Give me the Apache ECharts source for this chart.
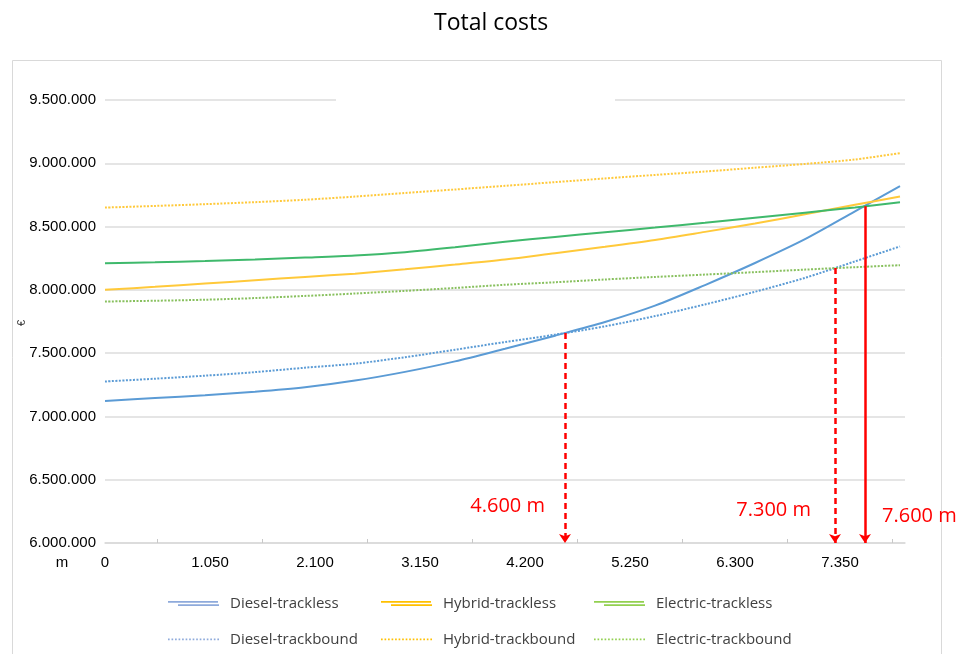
<!DOCTYPE html>
<html>
<head>
<meta charset="utf-8">
<script src="https://cdn.jsdelivr.net/npm/echarts@6/dist/echarts.min.js"></script>
<style>
  html, body { margin: 0; padding: 0; background: #ffffff; }
  #chart { width: 957px; height: 654px; }
</style>
</head>
<body>
<div id="chart"></div>
<script>
// Tunnel length (m) at which each cost value is sampled
const distances = [0, 500, 1000, 1500, 2000, 2500, 3000, 3500, 4000, 4500, 5000, 5500, 6000, 6500, 7000, 7500, 7950];

// Total costs (€) per variant
const dieselTrackless   = [7122000, 7145000, 7168000, 7195000, 7230000, 7283000, 7352000, 7435000, 7535000, 7638000, 7746000, 7875000, 8038000, 8212000, 8400000, 8620000, 8820000];
const hybridTrackless   = [8000000, 8024000, 8050000, 8076000, 8102000, 8128000, 8162000, 8200000, 8240000, 8290000, 8340000, 8394000, 8458000, 8524000, 8598000, 8672000, 8737000];
const electricTrackless = [8210000, 8218000, 8228000, 8240000, 8255000, 8272000, 8298000, 8336000, 8380000, 8418000, 8455000, 8492000, 8530000, 8570000, 8610000, 8651000, 8693000];
const dieselTrackbound  = [7276000, 7298000, 7322000, 7350000, 7385000, 7417000, 7468000, 7527000, 7588000, 7646000, 7712000, 7793000, 7885000, 7985000, 8095000, 8225000, 8343000];
const hybridTrackbound  = [8650000, 8663000, 8677000, 8693000, 8712000, 8737000, 8765000, 8793000, 8822000, 8851000, 8880000, 8908000, 8935000, 8965000, 8995000, 9030000, 9080000];
const electricTrackbound= [7908000, 7914000, 7922000, 7935000, 7952000, 7971000, 7992000, 8015000, 8040000, 8060000, 8082000, 8102000, 8121000, 8140000, 8160000, 8179000, 8195000];

// Break-even lengths and the cost level where the curves cross
const breakEvenLengths = [4600, 7300, 7600];
const breakEvenCosts   = [7659000, 8172000, 8660000];
const breakEvenLabels  = ['4.600 m', '7.300 m', '7.600 m'];

const seriesNames = ['Diesel-trackless', 'Hybrid-trackless', 'Electric-trackless',
                     'Diesel-trackbound', 'Hybrid-trackbound', 'Electric-trackbound'];

function dotted(n) {
  return String(Math.round(n)).replace(/\B(?=(\d{3})+(?!\d))/g, '.');
}
function pairs(values) {
  return distances.map((d, i) => [d, values[i]]);
}

const chart = echarts.init(document.getElementById('chart'), null, { renderer: 'canvas' });

const dotPattern = [2, 1.5];
const doubleLineIcon = 'path://M0,0H50V1.6H0Z M10,3.2H51V4.8H10Z';
// Row of small square dots for the trackbound legend keys
let dotPath = '';
for (let x = 0; x <= 49; x += 3.4) {
  dotPath += 'M' + x.toFixed(1) + ',1.4H' + (x + 1.6).toFixed(1) + 'V3.2H' + x.toFixed(1) + 'Z ';
}
const dottedLineIcon = 'path://M0,0H0.01V4.8H0Z ' + dotPath;

function lineSeries(name, values, color, isDotted) {
  return {
    name: name,
    type: 'line',
    data: pairs(values),
    showSymbol: false,
    symbol: 'none',
    smooth: 0.3,
    lineStyle: { color: color, width: 2, type: isDotted ? dotPattern : 'solid' },
    itemStyle: { color: color },
    emphasis: { disabled: true },
    z: 3
  };
}

const series = [
  lineSeries('Diesel-trackless', dieselTrackless, '#5b9bd5', false),
  lineSeries('Hybrid-trackless', hybridTrackless, '#ffc93a', false),
  lineSeries('Electric-trackless', electricTrackless, '#3fb96c', false),
  lineSeries('Diesel-trackbound', dieselTrackbound, '#5b9bd5', true),
  lineSeries('Hybrid-trackbound', hybridTrackbound, '#ffc93a', true),
  lineSeries('Electric-trackbound', electricTrackbound, '#88c05e', true)
];

// Red break-even arrows, from the crossing point down to the axis
series[0].markLine = {
  silent: true,
  symbol: ['none', 'arrow'],
  symbolSize: [9, 9],
  label: { show: false },
  animation: false,
  data: breakEvenLengths.map((len, i) => [
    { coord: [len, breakEvenCosts[i]],
      lineStyle: { color: '#ff0000', width: 2.5, type: i < 2 ? [6, 4] : 'solid' },
      itemStyle: { color: '#ff0000' } },
    { coord: [len, 6000000] }
  ])
};

// Legend: three columns, trackless variants on the first row, trackbound on the second
const legendColors = ['#8eaadb', '#ffc000', '#92d050'];
const legendColumnsLeft = [168, 381, 594];
const legendRowsCenter = [603, 639];
const legends = [];
seriesNames.forEach((name, idx) => {
  const col = idx % 3;
  const row = Math.floor(idx / 3);
  legends.push({
    orient: 'horizontal',
    left: legendColumnsLeft[col],
    top: legendRowsCenter[row] - 7,
    itemWidth: 51,
    itemHeight: 5,
    padding: 0,
    selectedMode: false,
    textStyle: { fontFamily: 'Open Sans', fontSize: 15, color: '#404040', lineHeight: 14, padding: [0, 0, 0, 6] },
    data: [{ name: name, icon: row === 0 ? doubleLineIcon : dottedLineIcon,
             itemStyle: { color: legendColors[col] } }]
  });
});

chart.setOption({
  animation: false,
  backgroundColor: '#ffffff',
  title: {
    text: 'Total costs',
    left: 429,
    top: 7,
    textStyle: { fontFamily: 'Open Sans', fontSize: 23, fontWeight: 'normal', color: '#000000' }
  },
  legend: legends,
  grid: { left: 105, right: 52, top: 100, bottom: 111 },
  xAxis: {
    type: 'value',
    min: 0,
    max: 8000,
    interval: 1050,
    axisLine: { show: true, onZero: false, lineStyle: { color: '#d9d9d9', width: 1.5 } },
    axisTick: { show: false, inside: true },
    minorTick: { show: true, splitNumber: 2, length: 4, lineStyle: { color: '#c8c8c8' } },
    splitLine: { show: false },
    axisLabel: {
      showMaxLabel: false,
      margin: 12,
      fontFamily: 'Liberation Sans',
      fontSize: 15,
      color: '#000000',
      formatter: v => dotted(v)
    }
  },
  yAxis: {
    type: 'value',
    min: 6000000,
    max: 9500000,
    interval: 500000,
    axisLine: { show: false },
    axisTick: { show: false },
    splitLine: { lineStyle: { color: '#dcdcdc', width: 1.5 } },
    axisLabel: {
      margin: 9,
      fontFamily: 'Liberation Sans',
      fontSize: 15,
      color: '#000000',
      formatter: v => dotted(v)
    }
  },
  series: series
});

// Annotation texts placed next to each arrow using the chart's own scales
const textEls = breakEvenLengths.map((len, i) => {
  const p = chart.convertToPixel({ xAxisIndex: 0, yAxisIndex: 0 }, [len, 6000000]);
  const rightSide = i === 2;
  const dx = rightSide ? 17 : (i === 0 ? -20 : -24);
  const dy = [-37, -33, -27][i];
  return {
    type: 'text',
    x: p[0] + dx,
    y: p[1] + dy,
    z: 20,
    style: {
      text: breakEvenLabels[i],
      fill: '#ff0000',
      font: '20px "Open Sans"',
      textAlign: rightSide ? 'left' : 'right',
      textVerticalAlign: 'middle'
    }
  };
});

chart.setOption({
  graphic: {
    elements: [
      { type: 'rect', z: -10, silent: true,
        shape: { x: 12.5, y: 60.5, width: 929, height: 700 },
        style: { fill: 'none', stroke: '#d9d9d9', lineWidth: 1 } },
      { type: 'rect', z: 10, silent: true,
        shape: { x: 336, y: 96, width: 279, height: 8 },
        style: { fill: '#ffffff' } },
      { type: 'text', x: 62, y: 563, z: 20, silent: true,
        style: { text: 'm', fill: '#000000', font: '15px "Liberation Sans"',
                 textAlign: 'center', textVerticalAlign: 'middle' } },
      { type: 'text', x: 22, y: 323, z: 20, silent: true, rotation: Math.PI / 2,
        style: { text: '€', fill: '#404040', font: '11px "Liberation Sans"',
                 textAlign: 'center', textVerticalAlign: 'middle' } }
    ].concat(textEls)
  }
});
</script>
</body>
</html>
